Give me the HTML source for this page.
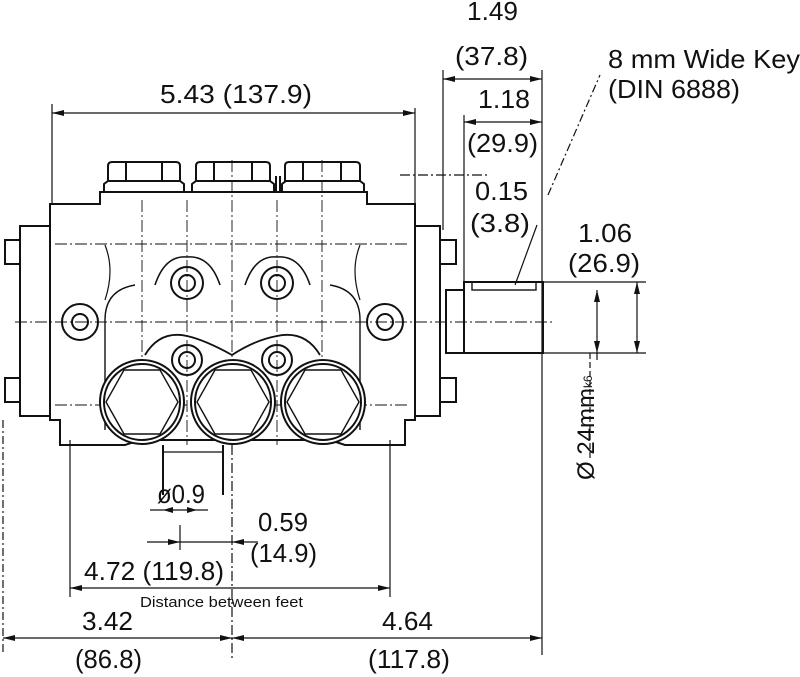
<!DOCTYPE html>
<html><head><style>
html,body{margin:0;padding:0;background:#fff;}
svg{display:block;}
text{font-family:"Liberation Sans",sans-serif;fill:#111;}
</style></head><body>
<svg width="800" height="677" viewBox="0 0 800 677" xmlns="http://www.w3.org/2000/svg">
<g stroke="#111" fill="none" stroke-width="1.2">
 <line x1="52" y1="104" x2="52" y2="205"/>
 <line x1="415" y1="108" x2="415" y2="205"/>
 <line x1="443" y1="70" x2="443" y2="230"/>
 <line x1="542" y1="70" x2="542" y2="655"/>
 <line x1="464" y1="115" x2="464" y2="285"/>
 <line x1="3" y1="420" x2="3" y2="655" stroke-dasharray="8 3 2 3"/>
 <line x1="70" y1="440" x2="70" y2="597"/>
 <line x1="390" y1="440" x2="390" y2="597"/>
 <line x1="232" y1="445" x2="232" y2="660" stroke-dasharray="10 3 2 3"/>
 <line x1="52" y1="113" x2="415" y2="113"/>
 <line x1="443" y1="79" x2="542" y2="79"/>
 <line x1="464" y1="122" x2="542" y2="122"/>
 <line x1="3" y1="638" x2="542" y2="638"/>
 <line x1="70" y1="588" x2="390" y2="588"/>
 <line x1="147" y1="542" x2="258" y2="542"/>
 <line x1="150" y1="510" x2="208" y2="510"/>
 <line x1="180" y1="525" x2="180" y2="550"/>
 <line x1="543" y1="282" x2="646" y2="282"/>
 <line x1="543" y1="353" x2="646" y2="353"/>
 <line x1="597" y1="290" x2="597" y2="360"/>
 <line x1="637" y1="282" x2="637" y2="353"/>
 <line x1="590" y1="353" x2="590" y2="460" stroke-dasharray="6 3"/>
 <line x1="548" y1="195" x2="600" y2="75" stroke-dasharray="8 3 2 3"/>
 <line x1="515" y1="285" x2="537" y2="225"/>
 <line x1="400" y1="175" x2="490" y2="175" stroke-dasharray="10 3 2 3"/>
 <g stroke-dasharray="12 3 2 3" stroke-width="0.9">
  <line x1="15" y1="322" x2="470" y2="322"/>
  <line x1="455" y1="322" x2="555" y2="322"/>
  <line x1="55" y1="244" x2="410" y2="244"/>
  <line x1="55" y1="405" x2="410" y2="405"/>
  <line x1="142" y1="200" x2="142" y2="445"/>
  <line x1="187" y1="200" x2="187" y2="445"/>
  <line x1="232" y1="160" x2="232" y2="445"/>
  <line x1="277" y1="200" x2="277" y2="445"/>
  <line x1="322" y1="160" x2="322" y2="445"/>
 </g>
 <g stroke-width="2">
  <path d="M108 182 V166 Q108 162 112 162 H176 Q180 162 180 166 V182"/>
  <line x1="126" y1="162" x2="126" y2="182"/><line x1="162" y1="162" x2="162" y2="182"/>
  <path d="M104 192 V184 L108 181 H180 L184 184 V192"/>
  <path d="M196 182 V166 Q196 162 200 162 H266 Q270 162 270 166 V182"/>
  <line x1="214" y1="162" x2="214" y2="182"/><line x1="252" y1="162" x2="252" y2="182"/>
  <path d="M192 192 V184 L196 181 H270 L274 184 V192"/>
  <path d="M285 182 V166 Q285 162 289 162 H356 Q360 162 360 166 V182"/>
  <line x1="303" y1="162" x2="303" y2="182"/><line x1="341" y1="162" x2="341" y2="182"/>
  <path d="M282 192 V184 L286 181 H360 L364 184 V192"/>
  <line x1="276" y1="176" x2="276" y2="192"/><line x1="280" y1="176" x2="280" y2="192"/>
  <path d="M100 192 H367 V204 H415 V420 H405 V445 H345 L330 440 H140 L125 445 H60 V420 H50 V204 H100 Z"/>
  <rect x="20" y="226" width="30" height="190"/>
  <rect x="415" y="226" width="25" height="190"/>
  <rect x="5" y="240" width="15" height="24"/>
  <rect x="5" y="378" width="15" height="24"/>
  <rect x="440" y="240" width="16" height="24"/>
  <rect x="440" y="378" width="16" height="24"/>
  <rect x="446" y="290" width="18" height="63"/>
  <rect x="464" y="282" width="79" height="71"/>
  <rect x="472" y="282" width="64" height="8" stroke-width="1.4"/>
  <path d="M163 445 V495 M223 445 V495"/>
  <line x1="163" y1="452" x2="223" y2="452" stroke-width="1.2"/>
 </g>
 <path d="M105 300 Q115 270 105 245 M360 300 Q350 270 360 245" stroke-width="1.2"/>
 <path d="M105 430 V320 Q105 290 135 285 M360 430 V320 Q360 290 330 285" stroke-width="1.4"/>
 <path d="M155 285 Q165 255 187 257 Q210 255 220 285 M245 285 Q255 255 277 257 Q300 255 310 285" stroke-width="1.6"/>
 <path d="M145 355 Q160 330 187 336 Q205 340 232 355 Q255 340 277 336 Q305 330 320 355" stroke-width="1.8"/>
 <g stroke-width="2">
  <circle cx="187" cy="283" r="16"/><circle cx="187" cy="283" r="8"/>
  <circle cx="277" cy="283" r="16"/><circle cx="277" cy="283" r="8"/>
  <circle cx="80" cy="322" r="18"/><circle cx="80" cy="322" r="8"/>
  <circle cx="385" cy="322" r="18"/><circle cx="385" cy="322" r="8"/>
  <circle cx="187" cy="360" r="15"/><circle cx="187" cy="360" r="8"/>
  <circle cx="277" cy="360" r="15"/><circle cx="277" cy="360" r="8"/>
  <circle cx="142" cy="402" r="42" fill="#fff"/><circle cx="142" cy="402" r="38"/>
  <circle cx="233" cy="402" r="42" fill="#fff"/><circle cx="233" cy="402" r="38"/>
  <circle cx="323" cy="402" r="42" fill="#fff"/><circle cx="323" cy="402" r="38"/>
  <polygon points="124,370 160,370 178,402 160,434 124,434 106,402" stroke-width="1.4"/>
  <polygon points="215,370 251,370 269,402 251,434 215,434 197,402" stroke-width="1.4"/>
  <polygon points="305,370 341,370 359,402 341,434 305,434 287,402" stroke-width="1.4"/>
 </g>
</g>
<g fill="#111">
 <polygon points="52,113 64,110 64,116"/><polygon points="415,113 403,110 403,116"/>
 <polygon points="443,79 455,76 455,82"/><polygon points="542,79 530,76 530,82"/>
 <polygon points="464,122 476,119 476,125"/><polygon points="542,122 530,119 530,125"/>
 <polygon points="3,638 15,635 15,641"/><polygon points="232,638 220,635 220,641"/>
 <polygon points="232,638 244,635 244,641"/><polygon points="542,638 530,635 530,641"/>
 <polygon points="70,588 82,585 82,591"/><polygon points="390,588 378,585 378,591"/>
 <polygon points="180,542 168,539 168,545"/><polygon points="232,542 244,539 244,545"/>
 <polygon points="163,510 173,507 173,513"/><polygon points="197,510 187,507 187,513"/>
 <polygon points="597,290 594,302 600,302"/><polygon points="597,353 594,341 600,341"/>
 <polygon points="637,282 634,294 640,294"/><polygon points="637,353 634,341 640,341"/>
</g>
<g font-size="26">
 <text x="160" y="103" textLength="152" lengthAdjust="spacingAndGlyphs">5.43 (137.9)</text>
 <text x="467" y="20" textLength="51" lengthAdjust="spacingAndGlyphs">1.49</text>
 <text x="455" y="65" textLength="73" lengthAdjust="spacingAndGlyphs">(37.8)</text>
 <text x="478" y="108" textLength="52" lengthAdjust="spacingAndGlyphs">1.18</text>
 <text x="467" y="152" textLength="71" lengthAdjust="spacingAndGlyphs">(29.9)</text>
 <text x="475" y="200" textLength="53" lengthAdjust="spacingAndGlyphs">0.15</text>
 <text x="470" y="232" textLength="60" lengthAdjust="spacingAndGlyphs">(3.8)</text>
 <text x="578" y="242" textLength="54" lengthAdjust="spacingAndGlyphs">1.06</text>
 <text x="568" y="272" textLength="72" lengthAdjust="spacingAndGlyphs">(26.9)</text>
 <text x="608" y="68" textLength="192" lengthAdjust="spacingAndGlyphs">8 mm Wide Key</text>
 <text x="608" y="98" textLength="132" lengthAdjust="spacingAndGlyphs">(DIN 6888)</text>
 <text x="258" y="531" textLength="50" lengthAdjust="spacingAndGlyphs">0.59</text>
 <text x="250" y="562" textLength="67" lengthAdjust="spacingAndGlyphs">(14.9)</text>
 <text x="84" y="580" textLength="140" lengthAdjust="spacingAndGlyphs">4.72 (119.8)</text>
 <text x="82" y="630" textLength="51" lengthAdjust="spacingAndGlyphs">3.42</text>
 <text x="382" y="630" textLength="51" lengthAdjust="spacingAndGlyphs">4.64</text>
 <text x="75" y="668" textLength="67" lengthAdjust="spacingAndGlyphs">(86.8)</text>
 <text x="368" y="668" textLength="82" lengthAdjust="spacingAndGlyphs">(117.8)</text>
 <text x="157" y="503" textLength="48" lengthAdjust="spacingAndGlyphs">ø0.9</text>
 <text transform="translate(594,480) rotate(-90)" font-size="24">Ø 24mm<tspan font-size="12" dy="-2">k6</tspan></text>
</g>
<text x="140" y="607" font-size="15" textLength="163" lengthAdjust="spacingAndGlyphs">Distance between feet</text>
</svg>
</body></html>
